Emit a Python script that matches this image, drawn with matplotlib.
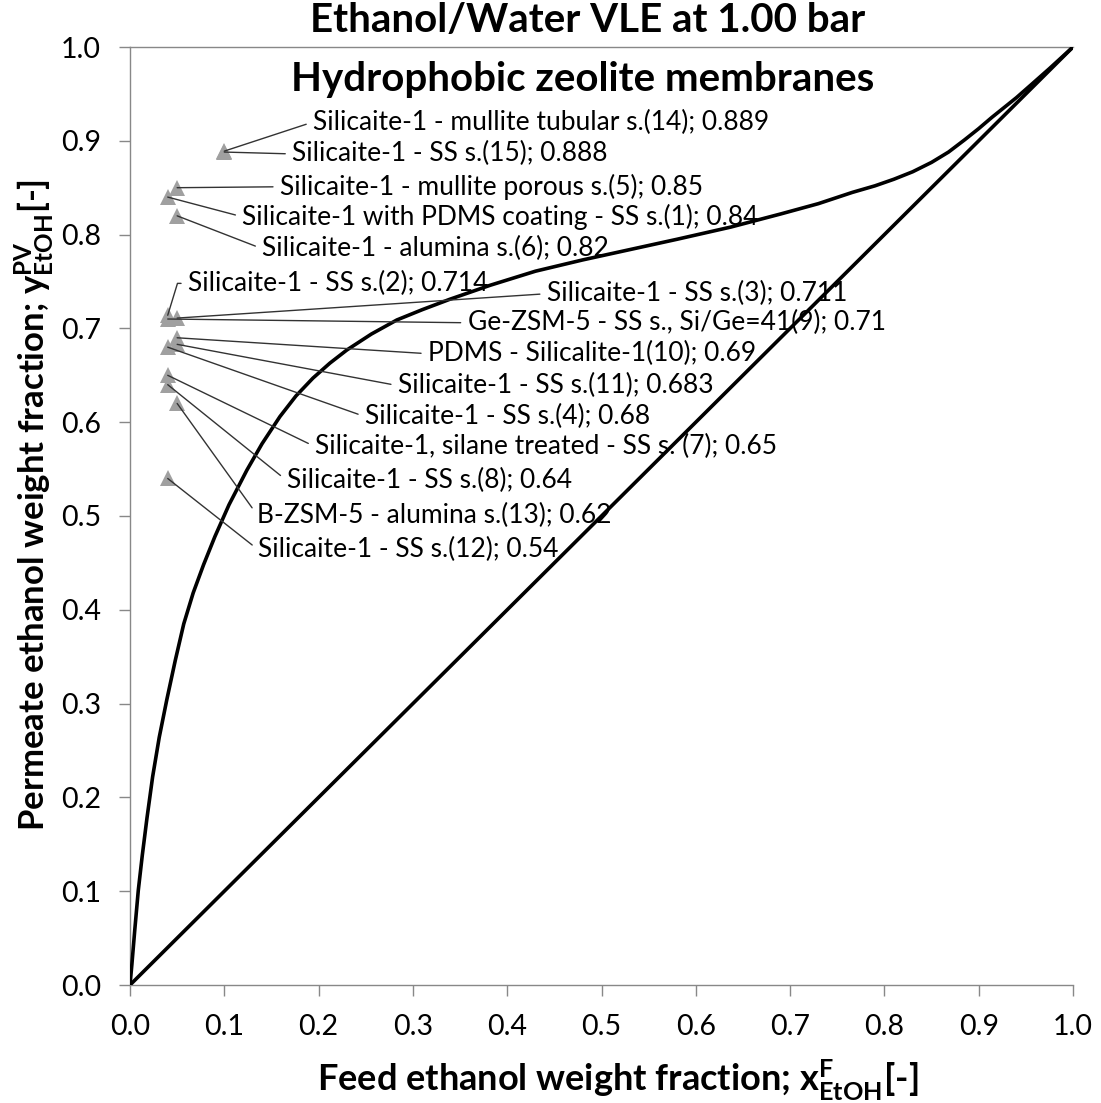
import matplotlib
matplotlib.use("Agg")
import matplotlib.pyplot as plt

plt.rcParams['font.family'] = ['Lato', 'DejaVu Sans']
plt.rcParams['mathtext.fontset'] = 'custom'
plt.rcParams['mathtext.rm'] = 'Lato'
plt.rcParams['mathtext.bf'] = 'Lato:bold'
plt.rcParams['mathtext.it'] = 'Lato:italic'

# VLE curve (weight fractions)
vle_x = [0.0, 0.002, 0.005, 0.0088, 0.013, 0.018, 0.024, 0.031, 0.039, 0.048,
         0.057, 0.067, 0.078, 0.09, 0.105, 0.124, 0.14, 0.159, 0.176, 0.194,
         0.212, 0.23, 0.256, 0.283, 0.31, 0.339, 0.382, 0.43, 0.48, 0.53,
         0.58, 0.637, 0.69, 0.73, 0.766, 0.79, 0.81, 0.83, 0.85, 0.868,
         0.885, 0.9, 0.914, 0.94, 0.957, 0.975, 1.0]
vle_y = [0.0, 0.022, 0.058, 0.101, 0.138, 0.178, 0.222, 0.264, 0.304, 0.346,
         0.385, 0.418, 0.448, 0.478, 0.512, 0.549, 0.577, 0.606, 0.628, 0.647,
         0.663, 0.677, 0.694, 0.709, 0.72, 0.731, 0.746, 0.761, 0.773, 0.784,
         0.795, 0.808, 0.822, 0.833, 0.845, 0.852, 0.859, 0.867, 0.877, 0.888,
         0.901, 0.913, 0.925, 0.946, 0.961, 0.977, 1.0]
diag = [0.0, 1.0]

# membranes
labels = ["Silicaite-1 - mullite tubular s.(14); 0.889",
          "Silicaite-1 - SS s.(15); 0.888",
          "Silicaite-1 - mullite porous s.(5); 0.85",
          "Silicaite-1 with PDMS coating - SS s.(1); 0.84",
          "Silicaite-1 - alumina s.(6); 0.82",
          "Silicaite-1 - SS s.(2); 0.714",
          "Silicaite-1 - SS s.(3); 0.711",
          "Ge-ZSM-5 - SS s., Si/Ge=41(9); 0.71",
          "PDMS - Silicalite-1(10); 0.69",
          "Silicaite-1 - SS s.(11); 0.683",
          "Silicaite-1 - SS s.(4); 0.68",
          "Silicaite-1, silane treated - SS s. (7); 0.65",
          "Silicaite-1 - SS s.(8); 0.64",
          "B-ZSM-5 - alumina s.(13); 0.62",
          "Silicaite-1 - SS s.(12); 0.54"]
feed = [0.10, 0.10, 0.05, 0.04, 0.05, 0.04, 0.05, 0.04, 0.05, 0.05, 0.04, 0.04, 0.04, 0.05, 0.04]
perm = [0.889, 0.888, 0.85, 0.84, 0.82, 0.714, 0.711, 0.71, 0.69, 0.683, 0.68, 0.65, 0.64, 0.62, 0.54]

# where each label sits
label_pos = [(0.194, 0.920), (0.172, 0.886), (0.159, 0.851), (0.119, 0.819),
             (0.140, 0.785), (0.0615, 0.748), (0.442, 0.737), (0.358, 0.706),
             (0.316, 0.673), (0.284, 0.639), (0.249, 0.606), (0.196, 0.574),
             (0.166, 0.538), (0.135, 0.501), (0.136, 0.464)]

W, H = 1101, 1103
fig = plt.figure(figsize=(W / 100, H / 100), dpi=100)
ax = fig.add_axes([130 / W, 1 - 985 / H, 943 / W, 938 / H])

ax.plot(vle_x, vle_y, color='black', lw=2.6, solid_joinstyle='round', zorder=3)
ax.plot(diag, diag, color='black', lw=2.6, zorder=3)
ax.plot(feed, perm, '^', color='#a0a0a0', markersize=12, markeredgewidth=0, zorder=4)

for i, lab in enumerate(labels):
    cs = "arc3"
    if i == 5:
        cs = "angle,angleA=0,angleB=73,rad=0"
    ax.annotate(lab, xy=(feed[i], perm[i]), xytext=label_pos[i],
                ha='left', va='center', fontsize=19, color='black',
                arrowprops=dict(arrowstyle='-', color='#333333', lw=1.0,
                                shrinkA=3, shrinkB=0, relpos=(0, 0.5),
                                connectionstyle=cs),
                zorder=5)

ax.set_xlim(0, 1)
ax.set_ylim(0, 1)
ticks = [i / 10 for i in range(11)]
ax.set_xticks(ticks)
ax.set_yticks(ticks)
ax.set_xticklabels(['%.1f' % t for t in ticks])
ax.set_yticklabels(['%.1f' % t for t in ticks])
ax.tick_params(direction='out', length=8, width=1, color='#888888',
               labelsize=20.5, pad=13)
for s in ['left', 'bottom', 'top']:
    ax.spines[s].set_color('#888888')
    ax.spines[s].set_linewidth(1)
ax.spines['right'].set_visible(False)

fig.text(618 / W, 1 - 1080 / H,
         r"Feed ethanol weight fraction; $\mathbf{x^{F}_{EtOH}}$[-]",
         ha='center', va='center', fontsize=26, fontweight='bold')
fig.text(35 / W, 1 - 505 / H,
         r"Permeate ethanol weight fraction; $\mathbf{y^{PV}_{EtOH}}$[-]",
         ha='center', va='center', rotation=90, fontsize=25, fontweight='bold')

fig.text(588 / W, 1 - 20 / H, "Ethanol/Water VLE at 1.00 bar", ha='center', va='center',
         fontsize=29, fontweight='bold')
fig.text(583 / W, 1 - 80 / H, "Hydrophobic zeolite membranes", ha='center', va='center',
         fontsize=29, fontweight='bold')

fig.savefig('out.png', dpi=100)
